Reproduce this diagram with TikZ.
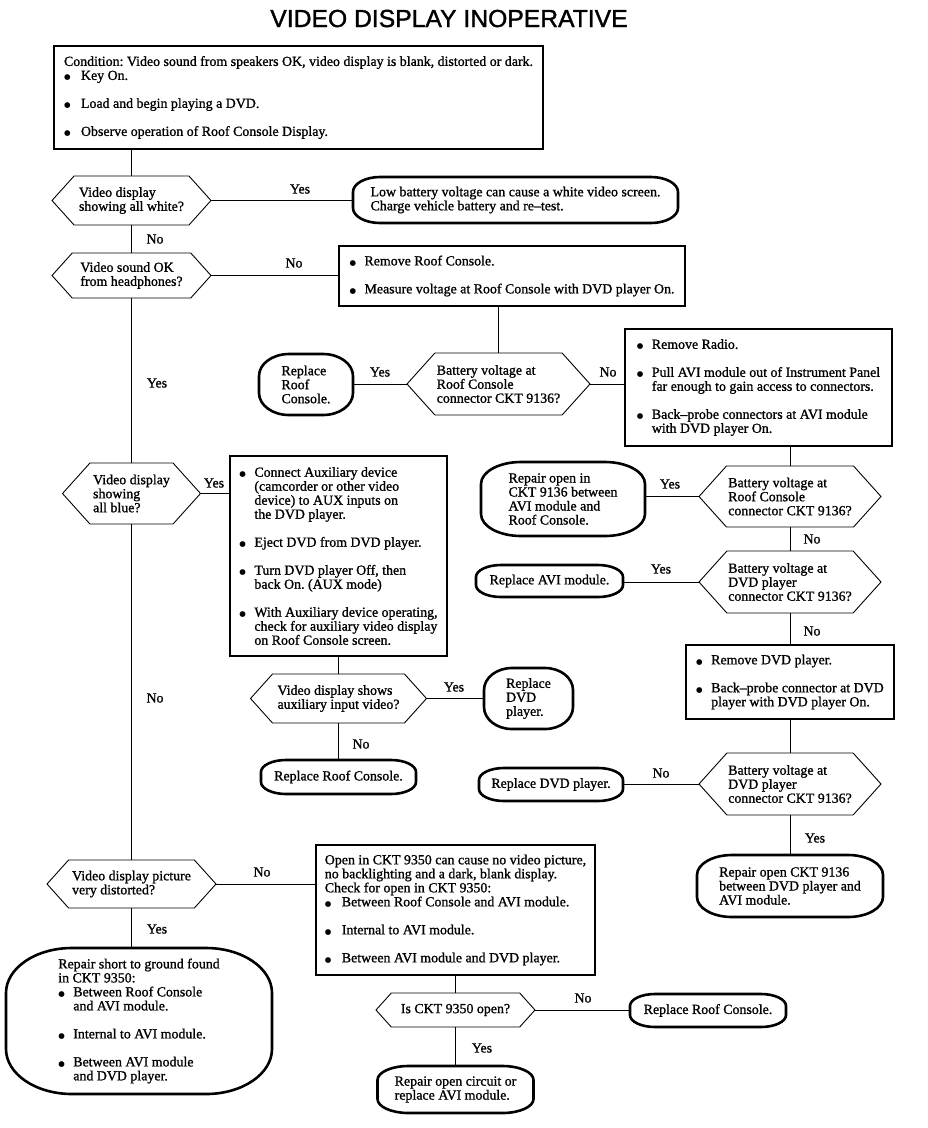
\documentclass[tikz,border=0pt]{standalone}
\usepackage{fontspec}
\setmainfont{Liberation Serif}[FakeBold=1.1]
\newfontfamily\titlefont{Liberation Sans}[FakeBold=1.4]
\newfontfamily\dvs{DejaVu Sans}
\newcommand\bdot{{\dvs\fontsize{7.5}{7}\selectfont ●}}
\newcommand\bu{\makebox[15pt][l]{\bdot}}
\newcommand\bux{\makebox[17pt][l]{\bdot}}
\newcommand\ind{\hspace*{15pt}}
\tikzset{
 txt/.style={font=\fontsize{13.9}{14}\selectfont, align=left, inner sep=0pt, outer sep=0pt},
 boxn/.style={txt, draw, line width=2.6pt},
 tl/.style={line width=2.6pt},
 dec/.style={txt},
 hexl/.style={line width=0.9pt},
 conn/.style={line width=0.9pt},
 lbl/.style={font=\fontsize{13.9}{14}\selectfont, inner sep=0pt},
}
% hexagon decision node: name, x, y, w, h, text
\newcommand\hexnode[6]{%
 \node[dec, minimum width=#4pt, minimum height=#5pt] (#1) at (#2,#3) {#6};
 \pgfmathsetmacro\hsl{0.45*#5}%
 \draw[hexl] (#1.west) -- ([xshift=\hsl pt]#1.north west) -- ([xshift=-\hsl pt]#1.north east) -- (#1.east) -- ([xshift=-\hsl pt]#1.south east) -- ([xshift=\hsl pt]#1.south west) -- cycle;}
% terminal node with elliptical corners: name, x, y, w, h, rx, ry, text
\newcommand\termnode[8]{%
 \node[dec, minimum width=#4pt, minimum height=#5pt] (#1) at (#2,#3) {#8};
 \draw[tl] ([xshift=#6pt]#1.north west) -- ([xshift=-#6pt]#1.north east)
   arc[start angle=90,end angle=0,x radius=#6pt,y radius=#7pt]
   -- ([yshift=#7pt]#1.south east)
   arc[start angle=0,end angle=-90,x radius=#6pt,y radius=#7pt]
   -- ([xshift=#6pt]#1.south west)
   arc[start angle=270,end angle=180,x radius=#6pt,y radius=#7pt]
   -- ([yshift=-#7pt]#1.north west)
   arc[start angle=180,end angle=90,x radius=#6pt,y radius=#7pt] -- cycle;}
\begin{document}
\frenchspacing
\begin{tikzpicture}[x=1pt,y=-1pt]
\fill[white] (0,0) rectangle (928,1128);
\useasboundingbox (0,0) rectangle (928,1128);

\node[font=\titlefont\fontsize{24.7}{26}\selectfont, inner sep=0pt] (title) at (449,18.5) {VIDEO DISPLAY INOPERATIVE};

\node[boxn, minimum width=489pt, minimum height=103pt] (b1) at (298.5,97.5)
 {Condition: Video sound from speakers OK, video display is blank, distorted or dark.\\
  \bux Key On.\\[14pt]
  \bux Load and begin playing a DVD.\\[14pt]
  \bux Observe operation of Roof Console Display.};

\hexnode{d1}{131.5}{200.5}{159}{49}{Video display\\showing all white?}
\termnode{t1}{515.5}{200}{325}{46}{27}{15}{Low battery voltage can cause a white video screen.\\Charge vehicle battery and re–test.}

\hexnode{d2}{131.5}{275.5}{159}{45}{Video sound OK\\from headphones?}
\node[boxn, minimum width=346pt, minimum height=60pt] (b2) at (512,276)
 {\bu Remove Roof Console.\\[14pt]\bu Measure voltage at Roof Console with DVD player On.};

\hexnode{d3}{498.5}{384}{183}{62}{Battery voltage at\\Roof Console\\connector CKT 9136?}
\termnode{t2}{306}{384.5}{94}{61}{30}{22}{Replace\\Roof\\Console.}
\node[boxn, minimum width=267pt, minimum height=117pt] (b3) at (758.5,387.5)
 {\bu Remove Radio.\\[14pt]
  \bu Pull AVI module out of Instrument Panel\\\ind far enough to gain access to connectors.\\[14pt]
  \bu Back–probe connectors at AVI module\\\ind with DVD player On.};

\hexnode{d4}{790}{496.5}{182}{61}{Battery voltage at\\Roof Console\\connector CKT 9136?}
\termnode{t3}{563}{499}{164}{74}{40}{22}{Repair open in\\CKT 9136 between\\AVI module and\\Roof Console.}
\hexnode{d5}{790}{582}{182}{62}{Battery voltage at\\DVD player\\connector CKT 9136?}
\termnode{t4}{549.5}{581}{147}{32}{25}{12}{Replace AVI module.}
\node[boxn, minimum width=208pt, minimum height=74pt] (b4) at (790,682)
 {\bu Remove DVD player.\\[14pt]\bu Back–probe connector at DVD\\\ind player with DVD player On.};
\hexnode{d6}{790}{784}{182}{62}{Battery voltage at\\DVD player\\connector CKT 9136?}
\termnode{t5}{551}{784.5}{144}{33}{25}{12}{Replace DVD player.}
\termnode{t6}{790}{886}{186}{62}{35}{20}{Repair open CKT 9136\\between DVD player and\\AVI module.}

\hexnode{d10}{131.5}{493.5}{138}{61}{Video display\\showing\\all blue?}
\node[boxn, minimum width=217pt, minimum height=200pt] (b5) at (338.5,556)
 {\bu Connect Auxiliary device\\\ind (camcorder or other video\\\ind device) to AUX inputs on\\\ind the DVD player.\\[14pt]
  \bu Eject DVD from DVD player.\\[14pt]
  \bu Turn DVD player Off, then\\\ind back On. (AUX mode)\\[14pt]
  \bu With Auxiliary device operating,\\\ind check for auxiliary video display\\\ind on Roof Console screen.};
\hexnode{d7}{338.5}{698.5}{176}{49}{Video display shows\\auxiliary input video?}
\termnode{t7}{528.5}{698.5}{89}{61}{28}{22}{Replace\\DVD\\player.}
\termnode{t8}{338.5}{777}{155}{34}{25}{12}{Replace Roof Console.}

\hexnode{d8}{131.5}{884}{169}{48}{Video display picture\\very distorted?}
\node[boxn, minimum width=279pt, minimum height=130pt] (b6) at (455.5,910)
 {Open in CKT 9350 can cause no video picture,\\no backlighting and a dark, blank display.\\Check for open in CKT 9350:\\
  \bux Between Roof Console and AVI module.\\[14pt]
  \bux Internal to AVI module.\\[14pt]
  \bux Between AVI module and DVD player.};
\hexnode{d9}{455.5}{1010}{159}{34}{Is CKT 9350 open?}
\termnode{t9}{708}{1010.5}{156}{33}{25}{12}{Replace Roof Console.}
\termnode{t10}{455.5}{1089.5}{156}{47}{31}{14}{Repair open circuit or\\replace AVI module.}
\termnode{t11}{139}{1021}{266}{146}{66}{45}{Repair short to ground found\\in CKT 9350:\\
  \bu Between Roof Console\\\ind and AVI module.\\[14pt]
  \bu Internal to AVI module.\\[14pt]
  \bu Between AVI module\\\ind and DVD player.}

% connectors
\draw[conn] (b1.south -| d1.north) -- (d1.north);
\draw[conn] (d1.east) -- (d1.east -| t1.west);
\draw[conn] (d1.south) -- (d2.north);
\draw[conn] (d2.east) -- (d2.east -| b2.west);
\draw[conn] (d2.south) -- (d10.north);
\draw[conn] (b2.south -| d3.north) -- (d3.north);
\draw[conn] (d3.west) -- (d3.west -| t2.east);
\draw[conn] (d3.east) -- (d3.east -| b3.west);
\draw[conn] (b3.south -| d4.north) -- (d4.north);
\draw[conn] (d4.west) -- (d4.west -| t3.east);
\draw[conn] (d4.south) -- (d5.north);
\draw[conn] (d5.west) -- (d5.west -| t4.east);
\draw[conn] (d5.south) -- (b4.north);
\draw[conn] (b4.south) -- (d6.north);
\draw[conn] (d6.west) -- (d6.west -| t5.east);
\draw[conn] (d6.south) -- (t6.north);
\draw[conn] (d10.east) -- (d10.east -| b5.west);
\draw[conn] (b5.south) -- (d7.north);
\draw[conn] (d7.east) -- (d7.east -| t7.west);
\draw[conn] (d7.south) -- (t8.north);
\draw[conn] (d10.south) -- (d8.north);
\draw[conn] (d8.east) -- (d8.east -| b6.west);
\draw[conn] (d8.south) -- (d8.south |- t11.north);
\draw[conn] (b6.south) -- (d9.north);
\draw[conn] (d9.east) -- (d9.east -| t9.west);
\draw[conn] (d9.south) -- (t10.north);

% labels
\node[lbl] (l1) at (300,189) {Yes};
\node[lbl] (l2) at (155,239) {No};
\node[lbl] (l3) at (294,263) {No};
\node[lbl] (l4) at (157,383) {Yes};
\node[lbl] (l5) at (380,372) {Yes};
\node[lbl] (l6) at (608,372) {No};
\node[lbl] (l7) at (670,484) {Yes};
\node[lbl] (l8) at (812,539) {No};
\node[lbl] (l9) at (661,569) {Yes};
\node[lbl] (l10) at (812,631) {No};
\node[lbl] (l11) at (661,773) {No};
\node[lbl] (l12) at (815,838) {Yes};
\node[lbl] (l13) at (214,483) {Yes};
\node[lbl] (l14) at (454,687) {Yes};
\node[lbl] (l15) at (361,744) {No};
\node[lbl] (l16) at (155,698) {No};
\node[lbl] (l17) at (262,872) {No};
\node[lbl] (l18) at (157,929) {Yes};
\node[lbl] (l19) at (583,998) {No};
\node[lbl] (l20) at (482,1048) {Yes};
\end{tikzpicture}
\end{document}
